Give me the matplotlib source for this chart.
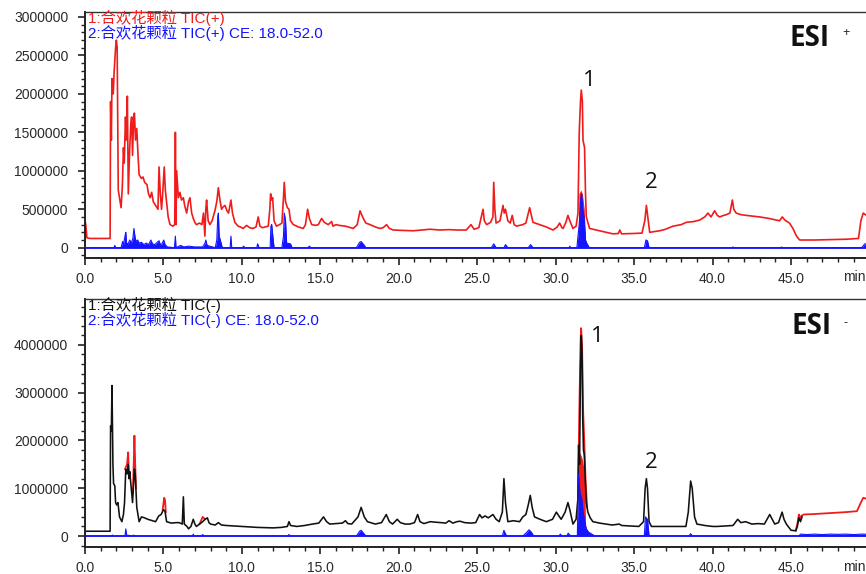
import numpy as np
import matplotlib
matplotlib.use("Agg")
import matplotlib.pyplot as plt
from matplotlib.ticker import MultipleLocator

plt.rcParams['font.family'] = ['Liberation Sans', 'Noto Sans CJK SC', 'DejaVu Sans']

# ---------------- DATA (ESI+) ----------------
pos_red_pts = [
    (0.0, 350000), (0.05, 300000), (0.12, 130000), (0.3, 120000), (1.0, 120000), (1.6, 120000),
    (1.63, 1900000), (1.68, 1400000), (1.72, 2200000), (1.8, 2000000), (1.86, 2300000), (1.95, 2600000),
    (2.0, 2700000), (2.05, 2600000), (2.12, 750000), (2.2, 650000), (2.3, 520000), (2.38, 800000),
    (2.45, 1300000), (2.5, 1100000), (2.58, 1700000), (2.63, 1400000), (2.7, 1970000), (2.76, 700000),
    (2.85, 1300000), (2.92, 1600000), (2.97, 1700000), (3.03, 1200000), (3.1, 1700000), (3.15, 1750000),
    (3.22, 1400000), (3.3, 1550000), (3.38, 1200000), (3.45, 950000), (3.6, 900000), (3.7, 920000),
    (3.8, 850000), (3.95, 820000), (4.05, 700000), (4.15, 650000), (4.25, 720000), (4.35, 600000),
    (4.5, 550000), (4.65, 500000), (4.72, 1050000), (4.8, 700000), (4.88, 500000), (4.95, 700000),
    (5.05, 1050000), (5.12, 750000), (5.2, 600000), (5.3, 400000), (5.42, 300000), (5.6, 280000),
    (5.72, 300000), (5.76, 1500000), (5.8, 300000), (5.84, 1000000), (5.95, 650000), (6.05, 720000),
    (6.15, 620000), (6.27, 650000), (6.35, 550000), (6.48, 450000), (6.6, 600000), (6.69, 650000),
    (6.8, 450000), (6.9, 380000), (7.0, 330000), (7.1, 300000), (7.3, 320000), (7.45, 300000),
    (7.55, 450000), (7.64, 150000), (7.7, 500000), (7.75, 620000), (7.85, 350000), (7.96, 300000),
    (8.1, 350000), (8.28, 480000), (8.4, 600000), (8.5, 780000), (8.58, 650000), (8.7, 500000),
    (8.8, 530000), (8.92, 550000), (9.05, 480000), (9.15, 450000), (9.3, 620000), (9.4, 450000),
    (9.55, 330000), (9.76, 280000), (9.9, 270000), (10.08, 250000), (10.3, 290000), (10.5, 260000),
    (10.7, 250000), (10.9, 270000), (11.04, 400000), (11.15, 280000), (11.3, 260000), (11.5, 270000),
    (11.68, 280000), (11.78, 500000), (11.83, 700000), (11.9, 620000), (11.96, 650000), (12.05, 350000),
    (12.2, 280000), (12.4, 300000), (12.55, 320000), (12.65, 650000), (12.7, 850000), (12.78, 600000),
    (12.9, 520000), (13.0, 500000), (13.1, 350000), (13.28, 300000), (13.6, 270000), (13.91, 250000),
    (14.05, 300000), (14.19, 500000), (14.3, 380000), (14.45, 300000), (14.7, 290000), (14.87, 300000),
    (15.08, 380000), (15.25, 330000), (15.5, 300000), (15.72, 340000), (15.8, 280000), (16.0, 300000),
    (16.2, 290000), (16.6, 280000), (17.1, 250000), (17.35, 300000), (17.53, 480000), (17.65, 420000),
    (17.74, 380000), (17.9, 320000), (18.17, 300000), (18.5, 270000), (18.8, 250000), (19.0, 260000),
    (19.22, 300000), (19.4, 250000), (19.65, 230000), (20.2, 225000), (20.92, 220000), (21.5, 230000),
    (22.0, 240000), (22.6, 230000), (23.2, 235000), (23.7, 230000), (24.3, 230000), (24.6, 300000),
    (24.8, 240000), (25.1, 260000), (25.37, 500000), (25.45, 350000), (25.6, 300000), (25.85, 330000),
    (26.0, 400000), (26.05, 850000), (26.12, 500000), (26.2, 320000), (26.45, 350000), (26.64, 550000),
    (26.72, 450000), (26.8, 500000), (26.95, 350000), (27.1, 320000), (27.23, 420000), (27.35, 300000),
    (27.5, 280000), (27.9, 300000), (28.1, 320000), (28.34, 520000), (28.45, 420000), (28.55, 330000),
    (28.97, 300000), (29.4, 270000), (29.83, 230000), (30.1, 270000), (30.25, 320000), (30.4, 260000),
    (30.47, 250000), (30.65, 330000), (30.78, 420000), (30.9, 350000), (31.1, 250000), (31.3, 280000),
    (31.42, 450000), (31.5, 1500000), (31.58, 1900000), (31.63, 2050000), (31.7, 1900000), (31.74, 1400000),
    (31.84, 1300000), (31.9, 700000), (31.95, 400000), (32.16, 250000), (32.8, 220000), (33.2, 200000),
    (33.65, 180000), (34.0, 185000), (34.08, 230000), (34.2, 180000), (35.0, 185000), (35.5, 190000),
    (35.68, 350000), (35.78, 550000), (35.9, 350000), (35.99, 200000), (36.3, 210000), (36.63, 220000),
    (37.0, 240000), (37.48, 280000), (38.0, 300000), (38.33, 330000), (38.8, 340000), (39.18, 360000),
    (39.5, 400000), (39.7, 450000), (39.9, 400000), (40.13, 480000), (40.3, 420000), (40.45, 400000),
    (40.7, 420000), (40.88, 430000), (41.1, 450000), (41.26, 620000), (41.35, 500000), (41.5, 450000),
    (41.8, 430000), (42.14, 420000), (42.6, 410000), (43.0, 400000), (43.6, 380000), (44.27, 350000),
    (44.44, 400000), (44.6, 360000), (44.9, 320000), (45.12, 250000), (45.35, 150000), (45.55, 100000),
    (46.5, 100000), (47.5, 105000), (48.5, 110000), (49.3, 120000), (49.45, 350000), (49.6, 450000),
    (49.8, 420000), (50.8, 400000),
]
pos_red_fill_pts = [(31.42, 0), (31.48, 700000), (31.6, 750000), (31.7, 700000), (31.82, 500000), (31.92, 0)]
pos_blue_pts = [
    (0, 0), (1.85, 0), (1.9, 30000), (1.95, 0), (2.3, 0), (2.4, 80000), (2.45, 40000), (2.55, 150000),
    (2.6, 200000), (2.65, 60000), (2.75, 50000), (2.85, 100000), (2.95, 60000), (3.05, 120000),
    (3.12, 250000), (3.18, 150000), (3.25, 80000), (3.35, 100000), (3.45, 60000), (3.6, 70000),
    (3.75, 40000), (3.9, 60000), (4.05, 40000), (4.2, 100000), (4.3, 50000), (4.45, 40000), (4.6, 70000),
    (4.72, 90000), (4.8, 40000), (4.9, 50000), (5.02, 100000), (5.1, 40000), (5.25, 10000), (5.7, 0),
    (5.76, 150000), (5.8, 0), (6.0, 20000), (6.1, 30000), (6.3, 10000), (6.6, 20000), (7.0, 10000),
    (7.5, 10000), (7.65, 60000), (7.7, 100000), (7.78, 30000), (8.3, 0), (8.4, 100000), (8.46, 400000),
    (8.5, 450000), (8.55, 150000), (8.65, 80000), (8.75, 0), (9.25, 0), (9.3, 150000), (9.35, 0),
    (10.05, 0), (10.1, 20000), (10.2, 0), (10.95, 0), (11.0, 50000), (11.1, 0), (11.8, 0), (11.85, 280000),
    (11.9, 300000), (11.97, 150000), (12.05, 0), (12.55, 0), (12.65, 150000), (12.7, 450000),
    (12.78, 350000), (12.85, 60000), (13.1, 50000), (13.2, 0), (14.2, 0), (14.3, 20000), (14.4, 0),
    (17.3, 0), (17.5, 70000), (17.6, 80000), (17.8, 30000), (17.9, 0), (25.9, 0), (26.05, 50000),
    (26.2, 0), (26.7, 0), (26.8, 40000), (26.95, 0), (28.25, 0), (28.4, 40000), (28.55, 0), (30.85, 0),
    (30.9, 20000), (30.95, 0), (31.35, 0), (31.42, 150000), (31.5, 300000), (31.6, 650000),
    (31.65, 700000), (31.72, 500000), (31.8, 400000), (31.9, 100000), (32.0, 50000), (32.15, 0),
    (35.65, 0), (35.75, 100000), (35.85, 90000), (35.95, 0), (41.25, 0), (41.3, 10000), (41.35, 0),
    (44.35, 0), (44.4, 10000), (44.45, 0), (49.5, 0), (49.7, 50000), (50.8, 30000),
]

# ---------------- DATA (ESI-) ----------------
neg_black_pts = [
    (0, 100000), (1.6, 100000), (1.63, 2300000), (1.68, 2200000), (1.72, 3150000), (1.78, 1500000),
    (1.82, 1100000), (1.9, 1050000), (1.95, 700000), (2.02, 650000), (2.1, 700000), (2.2, 400000),
    (2.35, 300000), (2.45, 450000), (2.52, 700000), (2.6, 1400000), (2.68, 1300000), (2.75, 1500000),
    (2.8, 1200000), (2.85, 1350000), (2.92, 1100000), (2.97, 900000), (3.03, 700000), (3.1, 1100000),
    (3.15, 1400000), (3.2, 1300000), (3.3, 600000), (3.45, 300000), (3.6, 400000), (3.8, 380000),
    (4.0, 350000), (4.3, 320000), (4.5, 300000), (4.7, 420000), (4.85, 450000), (5.0, 550000),
    (5.1, 520000), (5.2, 300000), (5.5, 270000), (5.8, 280000), (6.0, 280000), (6.2, 250000),
    (6.27, 820000), (6.33, 250000), (6.5, 200000), (6.6, 150000), (6.75, 200000), (6.9, 350000),
    (7.0, 250000), (7.1, 200000), (7.3, 250000), (7.5, 300000), (7.65, 350000), (7.8, 380000),
    (7.9, 280000), (8.0, 250000), (8.3, 230000), (8.5, 280000), (8.7, 230000), (9.0, 220000),
    (9.5, 210000), (10.0, 200000), (10.5, 190000), (11.0, 180000), (11.5, 175000), (12.0, 170000),
    (12.5, 180000), (12.9, 200000), (13.0, 300000), (13.1, 220000), (13.5, 200000), (14.0, 220000),
    (14.5, 250000), (14.9, 270000), (15.2, 400000), (15.4, 300000), (15.6, 250000), (16.0, 260000),
    (16.4, 270000), (16.6, 320000), (16.75, 260000), (17.0, 250000), (17.4, 400000), (17.6, 600000),
    (17.8, 400000), (18.0, 300000), (18.5, 250000), (18.9, 280000), (19.2, 450000), (19.4, 300000),
    (19.6, 250000), (19.9, 350000), (20.1, 280000), (20.4, 250000), (20.7, 250000), (21.0, 280000),
    (21.2, 450000), (21.35, 300000), (21.6, 260000), (22.0, 300000), (22.3, 290000), (22.7, 280000),
    (23.0, 270000), (23.2, 320000), (23.45, 270000), (23.7, 300000), (23.9, 310000), (24.2, 280000),
    (24.6, 270000), (24.9, 280000), (25.15, 450000), (25.3, 380000), (25.5, 420000), (25.7, 380000),
    (26.0, 450000), (26.2, 350000), (26.4, 300000), (26.6, 500000), (26.7, 1200000), (26.8, 700000),
    (26.95, 300000), (27.3, 320000), (27.7, 300000), (27.9, 400000), (28.1, 450000), (28.25, 650000),
    (28.38, 850000), (28.5, 600000), (28.65, 400000), (29.0, 350000), (29.4, 300000), (29.8, 350000),
    (30.04, 500000), (30.2, 420000), (30.35, 350000), (30.6, 500000), (30.78, 700000), (30.9, 550000),
    (31.1, 250000), (31.3, 350000), (31.42, 800000), (31.46, 1900000), (31.52, 1500000),
    (31.58, 3500000), (31.63, 4200000), (31.68, 3800000), (31.72, 2500000), (31.77, 1800000),
    (31.82, 1700000), (31.88, 1200000), (31.95, 700000), (32.05, 500000), (32.2, 380000),
    (32.37, 300000), (32.8, 270000), (33.2, 250000), (33.6, 230000), (34.05, 250000), (34.2, 220000),
    (34.8, 210000), (35.3, 200000), (35.6, 300000), (35.7, 1000000), (35.78, 1200000), (35.85, 1000000),
    (35.95, 300000), (36.1, 200000), (36.6, 200000), (37.06, 200000), (37.6, 200000), (38.3, 200000),
    (38.45, 500000), (38.6, 1150000), (38.7, 1000000), (38.85, 400000), (39.0, 250000), (39.5, 220000),
    (40.0, 200000), (40.3, 200000), (40.8, 210000), (41.3, 220000), (41.6, 350000), (41.8, 280000),
    (42.1, 300000), (42.5, 250000), (42.9, 260000), (43.3, 250000), (43.64, 450000), (43.8, 350000),
    (43.96, 250000), (44.2, 280000), (44.43, 500000), (44.55, 350000), (44.7, 250000), (45.0, 120000),
    (45.3, 110000), (45.4, 200000), (45.5, 380000), (45.6, 300000), (45.7, 400000),
]
neg_red_segments = [
    [(2.55, 1400000), (2.68, 1500000), (2.75, 1750000), (2.8, 1300000)],
    [(3.05, 900000), (3.12, 1700000), (3.15, 2100000), (3.2, 1500000), (3.25, 1000000)],
    [(4.95, 550000), (5.05, 800000), (5.1, 750000), (5.15, 500000)],
    [(7.3, 250000), (7.5, 400000), (7.65, 350000)],
    [(31.42, 800000), (31.5, 2500000), (31.58, 4000000), (31.62, 4350000), (31.68, 4000000),
     (31.75, 2600000), (31.82, 2000000), (31.9, 1200000), (32.0, 600000)],
    [(45.3, 110000), (45.4, 250000), (45.5, 450000), (45.55, 350000), (45.65, 420000), (45.8, 450000),
     (46.5, 460000), (47.5, 480000), (48.5, 500000), (49.2, 520000), (49.45, 700000), (49.6, 800000),
     (49.8, 780000), (50.8, 760000)],
]
neg_red_fill_pts = [(31.42, 0), (31.46, 1500000), (31.55, 1750000), (31.7, 1600000), (31.8, 1400000),
                    (31.86, 1000000), (31.92, 0)]
neg_blue_pts = [
    (0, 0), (1.7, 0), (1.75, 20000), (1.8, 0), (2.55, 0), (2.6, 150000), (2.65, 20000), (3.05, 0),
    (3.1, 20000), (3.15, 0), (6.85, 0), (6.9, 40000), (6.95, 0), (7.4, 0), (7.5, 30000), (7.6, 0),
    (12.9, 0), (13.0, 30000), (13.1, 0), (17.3, 0), (17.5, 100000), (17.6, 120000), (17.75, 60000),
    (17.9, 0), (26.6, 0), (26.7, 120000), (26.8, 40000), (26.9, 0), (27.9, 0), (28.1, 60000),
    (28.3, 130000), (28.45, 80000), (28.6, 0), (30.2, 0), (30.3, 40000), (30.4, 0), (30.7, 0),
    (30.8, 60000), (30.95, 0), (31.38, 0), (31.45, 1300000), (31.55, 900000), (31.65, 800000),
    (31.75, 500000), (31.85, 300000), (31.95, 150000), (32.1, 80000), (32.3, 40000), (32.5, 0),
    (35.65, 0), (35.72, 400000), (35.85, 350000), (35.95, 0), (38.5, 0), (38.6, 50000), (38.7, 0),
    (45.5, 0), (45.6, 40000), (46.0, 30000), (46.5, 40000), (47.0, 30000), (47.5, 40000), (48.0, 35000),
    (48.5, 40000), (49.0, 30000), (49.5, 40000), (50.8, 30000),
]

x_major_ticks = [0, 5, 10, 15, 20, 25, 30, 35, 40, 45]
x_tick_labels = ["0.0", "5.0", "10.0", "15.0", "20.0", "25.0", "30.0", "35.0", "40.0", "45.0"]
pos_y_ticks = [0, 500000, 1000000, 1500000, 2000000, 2500000, 3000000]
neg_y_ticks = [0, 1000000, 2000000, 3000000, 4000000]

pos_labels = ["1:合欢花颗粒 TIC(+)", "2:合欢花颗粒 TIC(+) CE: 18.0-52.0"]
neg_labels = ["1:合欢花颗粒 TIC(-)", "2:合欢花颗粒 TIC(-) CE: 18.0-52.0"]

RED = '#f01c1c'
BLUE = '#1414ff'
BLACK = '#111111'

W, H = 866, 574
fig = plt.figure(figsize=(W / 100, H / 100), dpi=100)


def fx(px):
    return px / W


def fy(py):
    return 1 - py / H


def unzip(pts):
    a = np.array(pts, dtype=float)
    return a[:, 0], a[:, 1]


x_right_px = 880
xmax = (x_right_px - 85) / 15.69

ax1 = fig.add_axes([fx(85), fy(258), fx(x_right_px) - fx(85), fy(12) - fy(258)])
ax2 = fig.add_axes([fx(85), fy(547), fx(x_right_px) - fx(85), fy(299) - fy(547)])

# top panel
t, v = unzip(pos_red_fill_pts)
ax1.fill_between(t, 0, v, color=RED, lw=0)
t, v = unzip(pos_red_pts)
ax1.plot(t, v, color=RED, lw=1.2)
t, v = unzip(pos_blue_pts)
ax1.fill_between(t, 0, v, color=BLUE, lw=0)
ax1.plot(t, v, color=BLUE, lw=0.8)
ax1.axhline(0, color=BLUE, lw=1.3)
ax1.set_ylim(-134000, 3065000)
ax1.set_yticks(pos_y_ticks)
ax1.set_yticklabels([str(int(y)) for y in pos_y_ticks])
ax1.yaxis.set_minor_locator(MultipleLocator(100000))

# bottom panel
for seg in neg_red_segments:
    t, v = unzip(seg)
    ax2.plot(t, v, color=RED, lw=1.3)
t, v = unzip(neg_red_fill_pts)
ax2.fill_between(t, 0, v, color=RED, lw=0)
t, v = unzip(neg_black_pts)
ax2.plot(t, v, color=BLACK, lw=1.15)
t, v = unzip(neg_blue_pts)
ax2.fill_between(t, 0, v, color=BLUE, lw=0)
ax2.plot(t, v, color=BLUE, lw=0.8)
ax2.axhline(0, color=BLUE, lw=1.3)
ax2.set_ylim(-230000, 4960000)
ax2.set_yticks(neg_y_ticks)
ax2.set_yticklabels([str(int(y)) for y in neg_y_ticks])
ax2.yaxis.set_minor_locator(MultipleLocator(200000))

for ax in (ax1, ax2):
    ax.set_xlim(0, xmax)
    ax.set_xticks(x_major_ticks)
    ax.set_xticklabels(x_tick_labels)
    ax.xaxis.set_minor_locator(MultipleLocator(1))
    ax.spines['right'].set_visible(False)
    for s in ('left', 'bottom'):
        ax.spines[s].set_linewidth(1.4)
        ax.spines[s].set_color('#222222')
    ax.spines['top'].set_linewidth(1.0)
    ax.spines['top'].set_color('#333333')
    ax.tick_params(axis='both', which='major', direction='out', length=5, width=1.2,
                   colors='#222222', labelsize=10, labelcolor='#2a2a2a')
    ax.tick_params(axis='both', which='minor', direction='out', length=3, width=1.0, colors='#222222')
    ax.tick_params(axis='y', which='major', pad=7)
    ax.tick_params(axis='x', which='major', pad=5)
    ax.patch.set_alpha(0)

# legend-like texts
fig.text(fx(88), fy(18), pos_labels[0], color=RED, fontsize=11, va='center', ha='left')
fig.text(fx(88), fy(33), pos_labels[1], color=BLUE, fontsize=11, va='center', ha='left')
fig.text(fx(88), fy(305), neg_labels[0], color=BLACK, fontsize=11, va='center', ha='left')
fig.text(fx(88), fy(320), neg_labels[1], color=BLUE, fontsize=11, va='center', ha='left')

# ESI labels
fig.text(fx(789), fy(38), "ESI", fontsize=20, fontweight='bold', family=['Open Sans', 'DejaVu Sans'],
         va='center', ha='left', color='#111111')
fig.text(fx(846), fy(33), "+", fontsize=9, va='center', ha='center', color='#222222')
fig.text(fx(791), fy(327), "ESI", fontsize=20, fontweight='bold', family=['Open Sans', 'DejaVu Sans'],
         va='center', ha='left', color='#111111')
fig.text(fx(846), fy(323), "-", fontsize=9, va='center', ha='center', color='#222222')

# peak labels
pk = dict(fontsize=16, family=['Open Sans', 'DejaVu Sans'], va='center', ha='center', color='#111111')
fig.text(fx(589), fy(80), "1", **pk)
fig.text(fx(651), fy(182), "2", **pk)
fig.text(fx(597), fy(336), "1", **pk)
fig.text(fx(651), fy(462), "2", **pk)

# min labels
fig.text(fx(843), fy(277), "min", fontsize=10, va='center', ha='left', color='#2a2a2a')
fig.text(fx(843), fy(567), "min", fontsize=10, va='center', ha='left', color='#2a2a2a')

fig.savefig("out.png", dpi=100)
